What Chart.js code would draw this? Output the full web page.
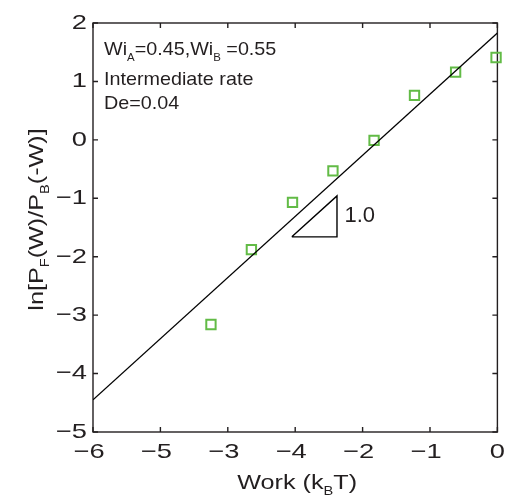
<!DOCTYPE html>
<html>
<head>
<meta charset="utf-8">
<script src="https://cdn.jsdelivr.net/npm/chart.js@4/dist/chart.umd.min.js"></script>
<style>
  html, body { margin: 0; background: #fff; }
</style>
</head>
<body>
<canvas id="workChart" width="506" height="500"></canvas>
<script>
// Measured points: ln ratio of forward/backward work distributions
const workValues = [-4.25, -3.65, -3.04, -2.44, -1.83, -1.23, -0.62, -0.02];
const lnRatio = [-3.16, -1.88, -1.07, -0.53, -0.01, 0.76, 1.16, 1.41];

// Straight-line fit through the data
const fitWork = [-6, 0];
const fitLn = [-4.45, 1.83];

// Slope marker (unit slope triangle)
const slopeWork = [-3.05, -2.38, -2.38, -3.05];
const slopeLn = [-1.66, -1.66, -0.96, -1.66];
const slopeLabel = { x: -2.27, y: -1.31, text: '1.0' };

// Axis ticks
const xTickLabels = ['−6', '−5', '−3', '−4', '−2', '−1', '0'];
const yTickLabels = ['−5', '−4', '−3', '−2', '−1', '0', '1', '2'];

const infoLines = [
    [['Wi'], ['A', true], ['=0.45,Wi'], ['B', true], [' =0.55']],
    [['Intermediate rate']],
    [['De=0.04']]
];

const INK = '#231f20';
const FONT = '"Liberation Sans", Arial, sans-serif';

function toPoints(xs, ys) {
    return xs.map((x, i) => ({ x: x, y: ys[i] }));
}

// --- TEXT HELPERS ---

function runsWidth(ctx, runs, size) {
    let w = 0;
    runs.forEach(([t, sub]) => {
        ctx.font = `${sub ? size * 0.58 : size}px ${FONT}`;
        w += ctx.measureText(t).width;
    });
    return w;
}

// draws text with subscripts starting at the current origin, baseline at 0
function drawRuns(ctx, runs, size) {
    let cx = 0;
    ctx.textAlign = 'left';
    ctx.textBaseline = 'alphabetic';
    runs.forEach(([t, sub]) => {
        ctx.font = `${sub ? size * 0.58 : size}px ${FONT}`;
        ctx.fillText(t, cx, sub ? size * 0.3 : 0);
        cx += ctx.measureText(t).width;
    });
}

function stretchedText(ctx, text, x, y, size, stretch, align, baseline) {
    ctx.save();
    ctx.translate(x, y);
    ctx.scale(stretch, 1);
    ctx.font = `${size}px ${FONT}`;
    ctx.textAlign = align;
    ctx.textBaseline = baseline;
    ctx.fillText(text, 0, 0);
    ctx.restore();
}

// --- FRAME, TICKS AND LABELS ---

const framePlugin = {
    id: 'frame',
    beforeDatasetsDraw(chart) {
        const { ctx, chartArea: a, scales } = chart;
        const tick = 5;
        ctx.save();
        ctx.strokeStyle = INK;
        ctx.lineWidth = 1.4;
        ctx.strokeRect(a.left, a.top, a.right - a.left, a.bottom - a.top);
        ctx.beginPath();
        scales.x.ticks.forEach(t => {
            const px = scales.x.getPixelForValue(t.value);
            ctx.moveTo(px, a.bottom); ctx.lineTo(px, a.bottom - tick);
            ctx.moveTo(px, a.top); ctx.lineTo(px, a.top + tick);
        });
        scales.y.ticks.forEach(t => {
            const py = scales.y.getPixelForValue(t.value);
            ctx.moveTo(a.left, py); ctx.lineTo(a.left + tick, py);
            ctx.moveTo(a.right, py); ctx.lineTo(a.right - tick, py);
        });
        ctx.stroke();
        ctx.restore();
    },
    afterDraw(chart) {
        const { ctx, chartArea: a, scales } = chart;
        ctx.save();
        ctx.fillStyle = INK;

        // tick labels (negative labels sit a little left of their tick)
        scales.x.ticks.forEach((t, i) => {
            const px = scales.x.getPixelForValue(t.value);
            const shift = xTickLabels[i].startsWith('−') ? -4 : 0;
            stretchedText(ctx, xTickLabels[i], px + shift, a.bottom + 20, 21, 1.3, 'center', 'middle');
        });
        scales.y.ticks.forEach((t, i) => {
            const py = scales.y.getPixelForValue(t.value);
            stretchedText(ctx, yTickLabels[i], a.left - 6, py, 21, 1.3, 'right', 'middle');
        });

        // axis titles
        const xTitle = [['Work (k'], ['B', true], ['T)']];
        const xs = 1.2;
        const xw = runsWidth(ctx, xTitle, 21) * xs;
        ctx.save();
        ctx.translate((a.left + a.right) / 2 + 2 - xw / 2, 489);
        ctx.scale(xs, 1);
        drawRuns(ctx, xTitle, 21);
        ctx.restore();

        const yTitle = [['ln[P'], ['F', true], ['(W)/P'], ['B', true], ['(-W)]']];
        const ys = 1.2;
        const yw = runsWidth(ctx, yTitle, 21) * ys;
        ctx.save();
        ctx.translate(43, (a.top + a.bottom) / 2 - 8);
        ctx.rotate(-Math.PI / 2);
        ctx.translate(-yw / 2, 0);
        ctx.scale(ys, 1);
        drawRuns(ctx, yTitle, 21);
        ctx.restore();

        // info block in the upper left corner
        const lineY = [32, 62, 86];
        infoLines.forEach((runs, i) => {
            ctx.save();
            ctx.translate(a.left + 11, a.top + lineY[i]);
            ctx.scale(1.04, 1);
            drawRuns(ctx, runs, 19);
            ctx.restore();
        });

        // slope label
        ctx.font = `22px ${FONT}`;
        ctx.textAlign = 'left';
        ctx.textBaseline = 'middle';
        ctx.fillText(slopeLabel.text, scales.x.getPixelForValue(slopeLabel.x), scales.y.getPixelForValue(slopeLabel.y));
        ctx.restore();
    }
};

new Chart(document.getElementById('workChart'), {
    type: 'scatter',
    data: {
        datasets: [
            {
                label: 'fit',
                data: toPoints(fitWork, fitLn),
                showLine: true,
                borderColor: '#000',
                borderWidth: 1.3,
                pointRadius: 0
            },
            {
                label: 'slope',
                data: toPoints(slopeWork, slopeLn),
                showLine: true,
                borderColor: '#000',
                borderWidth: 1.4,
                pointRadius: 0
            },
            {
                label: 'data',
                data: toPoints(workValues, lnRatio),
                pointStyle: 'rect',
                pointRadius: 6.6,
                pointBorderWidth: 2,
                pointBorderColor: '#62bb46',
                pointBackgroundColor: 'rgba(0,0,0,0)',
                clip: false
            }
        ]
    },
    options: {
        responsive: false,
        animation: false,
        layout: { padding: { top: 23, right: 3, left: 0, bottom: 0 } },
        plugins: {
            legend: { display: false },
            tooltip: { enabled: false }
        },
        scales: {
            x: {
                type: 'linear',
                min: -6,
                max: 0,
                ticks: { stepSize: 1, display: false },
                grid: { display: false },
                border: { display: false },
                afterFit(scale) {
                    scale.height = 68;
                    scale.paddingLeft = 0;
                    scale.paddingRight = 0;
                }
            },
            y: {
                type: 'linear',
                min: -5,
                max: 2,
                ticks: { stepSize: 1, display: false },
                grid: { display: false },
                border: { display: false },
                afterFit(scale) {
                    scale.width = 93;
                }
            }
        }
    },
    plugins: [framePlugin]
});
</script>
</body>
</html>
